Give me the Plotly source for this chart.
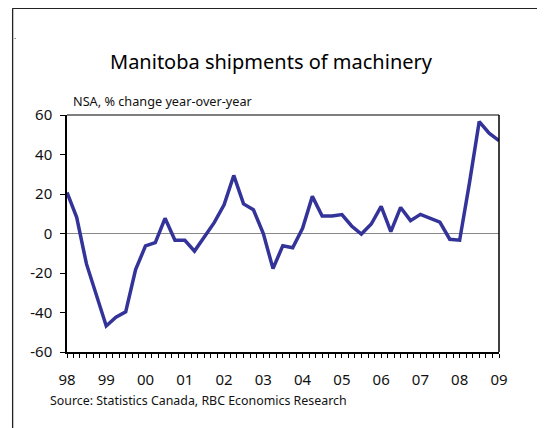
import plotly.graph_objects as go

quarters = [f"{y}-{m:02d}-01" for y in range(1998, 2010) for m in (1, 4, 7, 10)][:45]
yoy_change = [20.8, 8.2, -15.4, -30.8, -46.8, -42.4, -39.7, -18.3,
              -6.3, -4.6, 7.7, -3.4, -3.4, -8.9, -2.0, 5.5,
              14.5, 29.4, 15.0, 12.0, 0.0, -17.8, -6.2, -7.2,
              2.6, 18.8, 8.9, 8.9, 9.6, 3.8, -0.3, 4.8,
              13.7, 0.9, 13.2, 6.5, 9.7, 7.9, 5.8, -2.9,
              -3.4, 25.5, 56.7, 50.8, 47.0]
tick_years = [f"{y}-01-01" for y in range(1998, 2010)]
tick_labels = [f"{y % 100:02d}" for y in range(1998, 2010)]
y_ticks = [-60, -40, -20, 0, 20, 40, 60]
y_tick_labels = ["-60", "-40", "-20", "0", "20", "40", "60"]

OFF = 8  # page body margin
W, H = 545 - OFF, 428 - OFF
P_L, P_R, P_T, P_B = 66.5, 499.5, 115, 351.7
L, T = P_L - OFF, P_T - OFF
R, B = W - (P_R - OFF), H - (P_B - OFF)
pw, ph = W - L - R, H - T - B

def px(x):
    return (x - OFF - L) / pw

def py(y):
    return (H - B - (y - OFF)) / ph

FONT = "Noto Sans"

fig = go.Figure()
fig.add_trace(go.Scatter(
    x=quarters, y=yoy_change, mode="lines",
    line=dict(color="#333399", width=3.5),
    hoverinfo="skip", showlegend=False,
))

fig.update_layout(
    width=W, height=H,
    margin=dict(l=L, r=R, t=T, b=B, pad=0),
    paper_bgcolor="white", plot_bgcolor="white",
    font=dict(family=FONT, color="#111111"),
    xaxis=dict(
        type="date", range=["1998-01-01", "2009-01-01"],
        tickvals=tick_years, ticktext=tick_labels,
        ticks="outside", ticklen=4, tickcolor="black", tickwidth=1,
        showline=True, linecolor="black", linewidth=1.5,
        showgrid=False, zeroline=False,
        ticklabelstandoff=9,
        tickfont=dict(size=15, family=FONT, color="#111"),
        minor=dict(dtick="M2", ticks="outside", ticklen=4, tickcolor="black", showgrid=False),
    ),
    yaxis=dict(
        range=[-60, 60], tickvals=y_ticks, ticktext=y_tick_labels,
        ticks="outside", ticklen=5, tickcolor="black",
        showline=True, linecolor="black", linewidth=1.5,
        showgrid=False, zeroline=True, zerolinecolor="#888888", zerolinewidth=1,
        ticklabelstandoff=5,
        tickfont=dict(size=15, family=FONT, color="#111"),
    ),
    shapes=[
        dict(type="line", xref="paper", yref="paper", x0=0, x1=1, y0=1, y1=1,
             line=dict(color="#555555", width=1.5)),
        dict(type="line", xref="paper", yref="paper", x0=1, x1=1, y0=0, y1=1,
             line=dict(color="black", width=1.5)),
        dict(type="line", xref="paper", yref="paper", x0=px(12), x1=px(12), y0=py(8.5), y1=py(440),
             line=dict(color="#222222", width=1.3)),
        dict(type="line", xref="paper", yref="paper", x0=px(12), x1=px(539), y0=py(8.5), y1=py(8.5),
             line=dict(color="#222222", width=1.3)),
        dict(type="line", xref="paper", yref="paper", x0=px(539), x1=px(539), y0=py(8.5), y1=py(440),
             line=dict(color="#888888", width=2)),
    ],
    annotations=[
        dict(text="Manitoba shipments of machinery", xref="paper", yref="paper",
             x=px(271.5), y=py(62), xanchor="center", yanchor="middle", showarrow=False,
             font=dict(size=20, family=FONT, color="#000")),
        dict(text="NSA, % change year-over-year", xref="paper", yref="paper",
             x=px(71), y=py(101), xanchor="left", yanchor="middle", showarrow=False,
             font=dict(size=12.7, family=FONT, color="#111")),
        dict(text="Source: Statistics Canada, RBC Economics Research", xref="paper", yref="paper",
             x=px(47), y=py(400), xanchor="left", yanchor="middle", showarrow=False,
             font=dict(size=12.4, family=FONT, color="#111")),
        dict(text=".", xref="paper", yref="paper",
             x=px(14), y=py(36), xanchor="center", yanchor="middle", showarrow=False,
             font=dict(size=8, family=FONT, color="#111")),
    ],
)

fig.write_html("out.html")
